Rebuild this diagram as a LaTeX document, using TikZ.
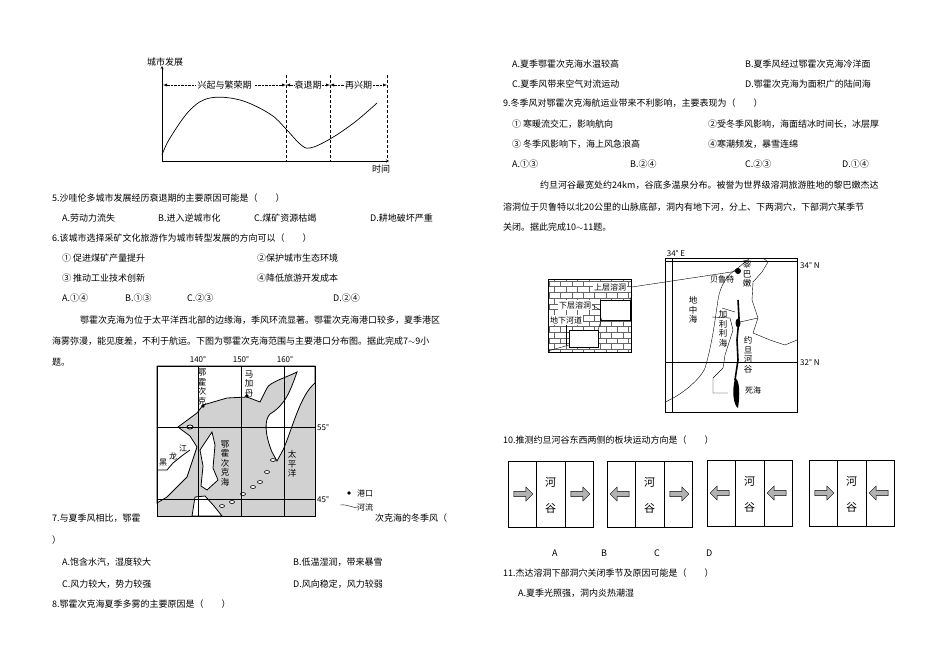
\documentclass[tikz,border=0pt]{standalone}
\usepackage{fontspec}
\setmainfont{Noto Sans CJK SC}
\usetikzlibrary{positioning,arrows,calc,shapes,shapes.arrows,patterns}
\tikzset{
    txt/.style = {
        anchor=west,
        inner sep=0pt,
        font=\fontsize{9}{11}\selectfont
    },
    small/.style = {
        inner sep=0pt,
        font=\fontsize{8}{9}\selectfont
    },
    chartlab/.style = {
        inner sep=0pt,
        font=\fontsize{9}{10}\selectfont
    },
    vert/.style = {
        inner sep=0pt,
        align=center,
        font=\fontsize{8.5}{9.5}\selectfont
    },
    land/.style = {
        draw,
        fill=white,
        line width=0.8pt
    },
    platearrow/.style = {
        draw,
        shape=single arrow,
        fill=black!30,
        minimum height=19pt,
        minimum width=14pt,
        single arrow head extend=2pt,
        inner sep=1pt
    },
    period/.style = {
        densely dotted,
        <->,
        >=latex
    },
    >=latex',
}
\newcommand{\plates}[4]{% left x, top y, left rotate, right rotate
    \draw[line width=0.9pt] (#1,#2) rectangle ++(85,66);
    \draw (#1+28,#2) -- ++(0,66) (#1+57,#2) -- ++(0,66);
    \node[platearrow, shape border rotate=#3] (al#1) at (#1+14,#2+33) {};
    \node[platearrow, shape border rotate=#4] (ar#1) at (#1+71,#2+33) {};
    \node[vert, font=\fontsize{11}{12}\selectfont] (he#1) at (#1+42.5,#2+21) {河};
    \node[vert, font=\fontsize{11}{12}\selectfont] (gu#1) at (#1+42.5,#2+47) {谷};
}
\begin{document}
\begin{tikzpicture}[x=1pt,y=-1pt]
    \useasboundingbox[fill=white] (0,0) rectangle (950,671);

    % chart of the city
    \coordinate (origin) at (162,161);
    \coordinate (ytop) at (162,66);
    \coordinate (xend) at (389,161);
    \draw[->, >=stealth] (origin) -- (ytop);
    \draw[->, >=stealth] (origin) -- (xend);
    \node[chartlab] (ylab) at (165,62) {城市发展};
    \node[chartlab] (xlab) at (381,169) {时间};
    \coordinate (d1) at (286,75);
    \coordinate (d2) at (330,75);
    \coordinate (d3) at (387,75);
    \draw[densely dashed] (d1) -- (286,161) (d2) -- (330,161) (d3) -- (387,161);
    \draw[period] (163,85) -- (d1 |- 0,85) node[midway, fill=white, chartlab, inner xsep=2pt] (p1) {兴起与繁荣期};
    \draw[period] (286,85) -- (330,85) node[midway, fill=white, chartlab] (p2) {衰退期};
    \draw[period] (330,85) -- (387,85) node[midway, fill=white, chartlab] (p3) {再兴期};
    \draw[line width=0.7pt] plot[smooth, tension=0.6] coordinates {(162,155) (170,138) (190,110) (210,98) (240,100) (270,114) (286,129) (300,144) (310,148) (330,139) (355,122) (377,103)};

    % questions 5, 6
    \node[txt] (q5) at (52,198) {5.沙哇伦多城市发展经历衰退期的主要原因可能是（　　）};
    \node[txt] (q5a) at (62,218) {A.劳动力流失};
    \node[txt] (q5b) at (158,218) {B.进入逆城市化};
    \node[txt] (q5c) at (254,218) {C.煤矿资源枯竭};
    \node[txt] (q5d) at (370,218) {D.耕地破坏严重};
    \node[txt] (q6) at (52,238) {6.该城市选择采矿文化旅游作为城市转型发展的方向可以（　　）};
    \node[txt] (q6i) at (62,258) {① 促进煤矿产量提升};
    \node[txt] (q6ii) at (257,258) {②保护城市生态环境};
    \node[txt] (q6iii) at (62,278) {③ 推动工业技术创新};
    \node[txt] (q6iv) at (257,278) {④降低旅游开发成本};
    \node[txt] (q6a) at (62,298) {A.①④};
    \node[txt] (q6b) at (125,298) {B.①③};
    \node[txt] (q6c) at (187,298) {C.②③};
    \node[txt] (q6d) at (333,298) {D.②④};
    \node[txt] (par1) at (80,320) {鄂霍次克海为位于太平洋西北部的边缘海，季风环流显著。鄂霍次克海港口较多，夏季港区};
    \node[txt] (par2) at (52,341) {海雾弥漫，能见度差，不利于航运。下图为鄂霍次克海范围与主要港口分布图。据此完成7$\sim$9小};
    \node[txt] (par3) at (52,362) {题。};

    % map of the sea
    \fill[black!18] (157,366) rectangle (315,516);
    \draw[land] (157,366) -- (315,366) -- (315,383) .. controls (300,395) and (292,430) .. (283,450) -- (277,461) -- (272,452) .. controls (265,435) and (264,420) .. (270,414) .. controls (285,405) and (290,392) .. (297,372) .. controls (285,378) and (270,382) .. (267,388) -- (260,402) -- (247,397) -- (227,398) -- (203,405) -- (197,413) -- (178,427) -- (190,436) -- (197,447) -- (187,477) -- (167,497) -- (157,503) -- cycle;
    \draw[land] (212,432) -- (215,445) -- (213,468) -- (218,480) -- (207,490) -- (201,486) -- (203,466) -- (200,450) -- cycle;
    \draw[land] (192,516) -- (195,497) -- (205,496) -- (214,506) -- (222,516) -- cycle;
    \draw[land] (190,427) ellipse (3 and 2);
    \foreach \ix/\iy in {222/506, 232/502, 243/494, 253/487, 260/482, 267/472, 273/460}
        \draw[land, line width=0.6pt] (\ix,\iy) ellipse (2.5 and 1.5);
    \draw[line width=0.8pt] (157,470) -- (167,470) -- (173,463) -- (183,455) -- (190,450);
    \draw (198,366) -- (198,516) (241,366) -- (241,516) (284,366) -- (284,516);
    \draw (157,427) -- (315,427) (157,499) -- (315,499);
    \draw[line width=0.9pt] (157,366) rectangle (315,516);
    \fill (203,406) circle (1.8) (247,396) circle (1.8);
    \node[small] (lon140) at (198,359) {140°};
    \node[small] (lon150) at (241,359) {150°};
    \node[small] (lon160) at (285,359) {160°};
    \node[small, anchor=west] (lat55) at (317,427) {55°};
    \node[small, anchor=west] (lat45) at (317,499) {45°};
    \node[vert] (okhport) at (202,387) {鄂\\霍\\次\\克};
    \node[vert] (magadan) at (249,384) {马\\加\\丹};
    \node[vert] (okhsea) at (225,463) {鄂\\霍\\次\\克\\海};
    \node[vert] (pacific) at (292,464) {太\\平\\洋};
    \node[small] (hei) at (163,463) {黑};
    \node[small] (long) at (173,456) {龙};
    \node[small] (jiang) at (183,448) {江};
    \fill (349,493) circle (1.8);
    \node[small, anchor=west] (portlab) at (357,493) {港口};
    \draw (340,505) .. controls (350,504) and (352,509) .. (359,507);
    \node[small, anchor=west] (riverlab) at (357,507) {河流};

    % questions 7, 8
    \node[txt] (q7) at (52,518) {7.与夏季风相比，鄂霍};
    \node[txt] (q7b) at (375,518) {次克海的冬季风（};
    \node[txt] (q7c) at (52,540) {）};
    \node[txt] (q7a1) at (62,562) {A.饱含水汽，湿度较大};
    \node[txt] (q7a2) at (293,562) {B.低温湿润，带来暴雪};
    \node[txt] (q7a3) at (62,584) {C.风力较大，势力较强};
    \node[txt] (q7a4) at (293,584) {D.风向稳定，风力较弱};
    \node[txt] (q8) at (52,604) {8.鄂霍次克海夏季多雾的主要原因是（　　）};

    % right column
    \node[txt] (q8a) at (512,64) {A.夏季鄂霍次克海水温较高};
    \node[txt] (q8b) at (745,64) {B.夏季风经过鄂霍次克海冷洋面};
    \node[txt] (q8c) at (512,84) {C.夏季风带来空气对流运动};
    \node[txt] (q8d) at (745,84) {D.鄂霍次克海为面积广的陆间海};
    \node[txt] (q9) at (503,103) {9.冬季风对鄂霍次克海航运业带来不利影响，主要表现为（　　）};
    \node[txt] (q9i) at (512,124) {① 寒暖流交汇，影响航向};
    \node[txt] (q9ii) at (708,124) {②受冬季风影响，海面结冰时间长，冰层厚};
    \node[txt] (q9iii) at (512,144) {③ 冬季风影响下，海上风急浪高};
    \node[txt] (q9iv) at (708,144) {④寒潮频发，暴雪连绵};
    \node[txt] (q9a) at (512,164) {A.①③};
    \node[txt] (q9b) at (630,164) {B.②④};
    \node[txt] (q9c) at (745,164) {C.②③};
    \node[txt] (q9d) at (842,164) {D.①④};
    \node[txt] (par4) at (540,185) {约旦河谷最宽处约24km，谷底多温泉分布。被誉为世界级溶洞旅游胜地的黎巴嫩杰达};
    \node[txt] (par5) at (503,207) {溶洞位于贝鲁特以北20公里的山脉底部，洞内有地下河，分上、下两洞穴，下部洞穴某季节};
    \node[txt] (par6) at (503,227) {关闭。据此完成10$\sim$11题。};

    % map of the valley
    \draw (665,261) -- (797,261) (665,362) -- (797,362) (672,258) -- (672,412);
    \draw (665,402) .. controls (680,396) and (700,380) .. (705,368) .. controls (712,345) and (715,320) .. (718,300) .. controls (720,285) and (728,274) .. (738,268) -- (745,262) -- (750,258);
    \draw (763,258) -- (768,262) -- (762,272) -- (753,282) -- (752,300) -- (758,318) -- (753,333) -- (770,340) -- (785,345) -- (797,340);
    \draw (722,308) -- (735,312) (740,322) -- (758,318);
    \draw (712,317) -- (730,318) -- (733,330) -- (725,355) -- (723,368) -- (713,378) -- (713,393) -- (728,393);
    \draw[line width=1.6pt] (738,300) -- (739,318) -- (737,340) -- (738,360) -- (735,380);
    \fill (738,323) ellipse (2.5 and 4.5);
    \fill (735,378) .. controls (740,380) and (740,395) .. (738,408) .. controls (733,405) and (732,390) .. (735,378) -- cycle;
    \fill (738,271) circle (3);
    \draw[line width=0.9pt] (665,258) rectangle (797,412);
    \node[small] (lon34) at (676,253) {34° E};
    \node[small, anchor=west] (lat34n) at (800,265) {34° N};
    \node[small, anchor=west] (lat32n) at (800,362) {32° N};
    \node[vert] (lebanon) at (747,274) {黎\\巴\\嫩};
    \node[small] (beirut) at (722,279) {贝鲁特};
    \node[vert] (medsea) at (693,310) {地\\中\\海};
    \node[vert] (galilee) at (723,329) {加\\利\\利\\海};
    \node[vert] (jordan) at (748,355) {约\\旦\\河\\谷};
    \node[small] (deadsea) at (753,390) {死海};

    % cave inset
    \node[draw, line width=0.9pt, pattern=bricks, pattern color=black!60, minimum width=83pt, minimum height=73pt, inner sep=0pt] (inset) at (590,316) {};
    \draw[fill=white] (600,300) rectangle (630,320);
    \draw[fill=white] (569,330) rectangle (598,347);
    \draw (548,351) -- (569,345) (598,330) -- (602,318) (630,300) -- (632,295);
    \node[small, fill=white, inner sep=1pt] (upcave) at (610,287) {上层溶洞};
    \node[small, fill=white, inner sep=1pt] (lowcave) at (575,305) {下层溶洞};
    \node[small, fill=white, inner sep=1pt] (river) at (566,320) {地下河道};
    \draw (lowcave.east) -- (600,310);
    \draw (river.south) -- (566,345);
    \draw (inset.north east |- upcave) -- (738,271);

    % question 10
    \node[txt] (q10) at (503,440) {10.推测约旦河谷东西两侧的板块运动方向是（　　）};
    \plates{508}{461}{0}{0}
    \plates{607}{461}{180}{0}
    \plates{707}{460}{180}{180}
    \plates{809}{460}{0}{180}
    \node[txt] (la) at (552,553) {A};
    \node[txt] (lb) at (601,553) {B};
    \node[txt] (lc) at (654,553) {C};
    \node[txt] (ld) at (706,553) {D};

    % question 11
    \node[txt] (q11) at (503,573) {11.杰达溶洞下部洞穴关闭季节及原因可能是（　　）};
    \node[txt] (q11a) at (518,593) {A.夏季光照强，洞内炎热潮湿};
\end{tikzpicture}
\end{document}
